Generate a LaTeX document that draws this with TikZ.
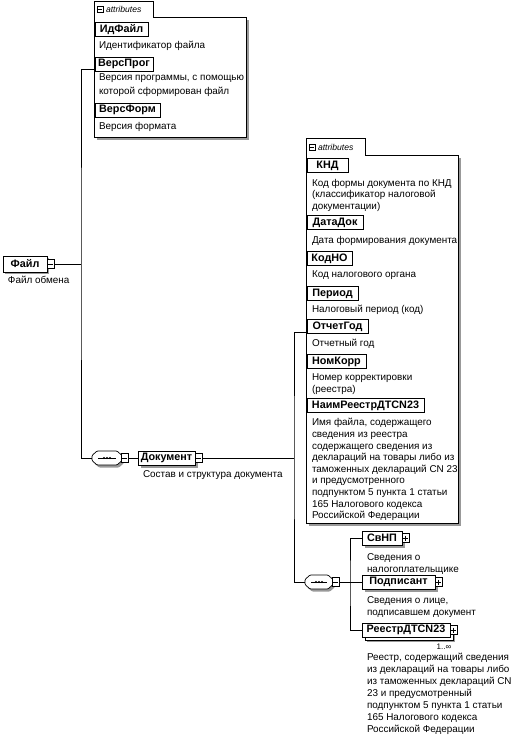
\documentclass[tikz,border=0pt]{standalone}
\usepackage{fontspec}
\setmainfont{Liberation Sans}
\usetikzlibrary{backgrounds}
\newcommand\mymin[1]{\draw[line width=0.6pt] ([xshift=1.3pt]#1.west) -- ([xshift=-1.3pt]#1.east);}
\newcommand\myplus[1]{\mymin{#1}\draw[line width=0.6pt] ([yshift=-2pt]#1.north) -- ([yshift=2pt]#1.south);}
\newcommand\shadowof[2][2.5]{\begin{pgfonlayer}{background}\fill[black!40] ([xshift=#1pt,yshift=-#1pt]#2.south west) rectangle ([xshift=#1pt,yshift=-#1pt]#2.north east);\end{pgfonlayer}}
% octagon outline round a node #2, offset (#1)
\newcommand\octpath[3]{([shift={(#1)}]#2.center) ++(-#3+5,-7) -- ++(2*#3-10,0) -- ++(5,4.5) -- ++(0,5) -- ++(-5,4.5) -- ++(-2*#3+10,0) -- ++(-5,-4.5) -- ++(0,-5) -- cycle}
\begin{document}
\begin{tikzpicture}[x=1pt,y=-1pt,
  every node/.style={inner sep=0pt, outer sep=0pt},
  lbl/.style={font=\fontsize{10.8}{12}\selectfont\bfseries, draw, fill=white, line width=0.8pt, minimum height=14pt, anchor=west},
  elem/.style={font=\fontsize{10.8}{12}\selectfont\bfseries, draw, fill=white, line width=0.7pt, minimum height=14pt, anchor=west},
  desc/.style={font=\fontsize{9.9}{12}\selectfont, anchor=north west, align=left},
  sq/.style={draw, fill=white, line width=0.6pt, minimum width=7pt, minimum height=9pt, anchor=west},
  cont/.style={fill=white, anchor=north west},
  tab/.style={anchor=south west, minimum height=16pt},
  seq/.style={minimum height=14pt},
  tabtxt/.style={font=\fontsize{8.6}{9}\selectfont\itshape, anchor=west},
  conn/.style={line width=0.7pt}
]
\useasboundingbox (0,0) rectangle (513,738);

% ---------- attributes container A ----------
\node[cont, minimum width=152pt, minimum height=120pt] (attrA) at (94,17) {};
\shadowof[3]{attrA}
\node[tab, minimum width=59pt] (tabA) at (94,17) {};
\draw[line width=0.7pt] (tabA.south east) -- (attrA.north east) -- (attrA.south east) -- (attrA.south west) -- (tabA.north west) -- (tabA.north east) -- (tabA.south east);
\node[draw, line width=0.5pt, minimum width=6.5pt, minimum height=6.5pt, anchor=west] (tabAicon) at (97,9.5) {};
\mymin{tabAicon}
\node[tabtxt] (tabAtxt) at (106,9) {attributes};

\node[lbl, minimum width=53pt] (idf) at (95,29.5) {ИдФайл};
\shadowof{idf}
\node[desc] (idfd) at (99,41.5) {Идентификатор файла};
\node[lbl, minimum width=58pt] (verp) at (95,64) {ВерсПрог};
\shadowof{verp}
\node[desc, font=\fontsize{9.9}{14}\selectfont] (verpd) at (99,73.5) {Версия программы, с помощью\\которой сформирован файл};
\node[lbl, minimum width=65pt] (verf) at (95,110) {ВерсФорм};
\shadowof{verf}
\node[desc] (verfd) at (99,122) {Версия формата};

% ---------- root ----------
\node[elem, minimum width=44pt, minimum height=16pt] (file) at (3,264) {Файл};
\shadowof[2]{file}
\node[sq] (filesq) at (file.east) {};
\mymin{filesq}
\node[desc] (filed) at (8,276.5) {Файл обмена};

\coordinate (busA) at (81,264);
\draw[conn] (filesq.east) -- (busA);
\draw[conn] ([yshift=8pt]attrA.west) -| (busA) |- (busA |- 0,458) coordinate (busAend);

% ---------- sequence 1 ----------
\node[seq, minimum width=30pt] (seq1) at (107,458) {};
\begin{pgfonlayer}{background}\fill[black!40, rounded corners=1pt] \octpath{2,2.5}{seq1}{15};\end{pgfonlayer}
\draw[fill=white, line width=0.7pt, rounded corners=1pt] \octpath{0,0}{seq1}{15};
\draw[line width=0.6pt] ([xshift=-9pt]seq1.center) -- ([xshift=9pt]seq1.center);
\foreach \d in {-3,0,3} \fill ([xshift=\d pt]seq1.center) circle (1.2pt);
\draw[conn] (busAend) -- (seq1.west);
\node[sq] (seq1sq) at ([xshift=-1pt]seq1.east) {};
\mymin{seq1sq}

\node[elem, minimum width=57pt] (doc) at (138,458) {Документ};
\shadowof{doc}
\node[sq] (docsq) at (doc.east) {};
\mymin{docsq}
\draw[conn] (seq1sq.east) -- (doc.west);
\node[desc] (docd) at (143,470.5) {Состав и структура документа};

% ---------- attributes container B ----------
\node[cont, minimum width=152pt, minimum height=368pt] (attrB) at (306,155) {};
\shadowof[3]{attrB}
\node[tab, minimum width=59pt, minimum height=17pt] (tabB) at (306,155) {};
\draw[line width=0.7pt] (tabB.south east) -- (attrB.north east) -- (attrB.south east) -- (attrB.south west) -- (tabB.north west) -- (tabB.north east) -- (tabB.south east);
\node[draw, line width=0.5pt, minimum width=6.5pt, minimum height=6.5pt, anchor=west] (tabBicon) at (309,147.5) {};
\mymin{tabBicon}
\node[tabtxt] (tabBtxt) at (318,147) {attributes};

\node[lbl, minimum width=41pt] (knd) at (307,165.5) {КНД};
\shadowof{knd}
\node[desc, font=\fontsize{9.9}{11.7}\selectfont] (kndd) at (312,179) {Код формы документа по КНД\\(классификатор налоговой\\документации)};
\node[lbl, minimum width=56pt] (data) at (307,222.5) {ДатаДок};
\shadowof{data}
\node[desc] (datad) at (312,236.5) {Дата формирования документа};
\node[lbl, minimum width=45pt] (kodno) at (307,258.5) {КодНО};
\shadowof{kodno}
\node[desc] (kodnod) at (312,270.5) {Код налогового органа};
\node[lbl, minimum width=51pt] (per) at (307,293.5) {Период};
\shadowof{per}
\node[desc] (perd) at (312,305.5) {Налоговый период (код)};
\node[lbl, minimum width=61pt] (otch) at (307,326.5) {ОтчетГод};
\shadowof{otch}
\node[desc] (otchd) at (312,339.5) {Отчетный год};
\node[lbl, minimum width=59pt] (nom) at (307,361.5) {НомКорр};
\shadowof{nom}
\node[desc] (nomd) at (312,373.5) {Номер корректировки\\(реестра)};
\node[lbl, minimum width=117pt] (naim) at (307,405.5) {НаимРеестрДТСN23};
\shadowof{naim}
\node[desc, font=\fontsize{9.9}{11.6}\selectfont] (naimd) at (312,418.5) {Имя файла, содержащего\\сведения из реестра\\содержащего сведения из\\деклараций на товары либо из\\таможенных деклараций CN 23\\и предусмотренного\\подпунктом 5 пункта 1 статьи\\165 Налогового кодекса\\Российской Федерации};

\coordinate (busB) at (294,458);
\draw[conn] (docsq.east) -- (busB);
\draw[conn] ([yshift=7pt]attrB.west) -| (busB) |- (busB |- 0,582) coordinate (busBend);

% ---------- sequence 2 ----------
\node[seq, minimum width=28pt] (seq2) at (319,582) {};
\begin{pgfonlayer}{background}\fill[black!40, rounded corners=1pt] \octpath{2,2.5}{seq2}{14};\end{pgfonlayer}
\draw[fill=white, line width=0.7pt, rounded corners=1pt] \octpath{0,0}{seq2}{14};
\draw[line width=0.6pt] ([xshift=-8pt]seq2.center) -- ([xshift=8pt]seq2.center);
\foreach \d in {-3,0,3} \fill ([xshift=\d pt]seq2.center) circle (1.2pt);
\draw[conn] (busBend) -- (seq2.west);
\node[sq] (seq2sq) at ([xshift=-1pt]seq2.east) {};
\mymin{seq2sq}

\node[elem, minimum width=40pt] (svnp) at (362,538) {СвНП};
\shadowof{svnp}
\node[sq] (svnpsq) at (svnp.east) {};
\myplus{svnpsq}
\node[desc] (svnpd) at (367,553.5) {Сведения о\\налогоплательщике};

\node[elem, minimum width=73pt] (podp) at (362,582) {Подписант};
\shadowof{podp}
\node[sq] (podpsq) at (podp.east) {};
\myplus{podpsq}
\node[desc, font=\fontsize{9.9}{12.5}\selectfont] (podpd) at (367,596.5) {Сведения о лице,\\подписавшем документ};

\node[elem, minimum width=88pt] (reestr) at (362,630) {РеестрДТСN23};
\begin{pgfonlayer}{background}
\fill[black!40] ([xshift=5pt,yshift=-5pt]reestr.south west) rectangle ([xshift=5pt,yshift=-5pt]reestr.north east);
\draw[fill=white, line width=0.7pt] ([xshift=3pt,yshift=-3pt]reestr.south west) rectangle ([xshift=3pt,yshift=-3pt]reestr.north east);
\end{pgfonlayer}
\node[sq] (reestrsq) at (reestr.east) {};
\myplus{reestrsq}
\node[font=\fontsize{8}{8}\selectfont] (mult) at (444,647) {1..∞};
\node[desc] (reestrd) at (367,653.5) {Реестр, содержащий сведения\\из деклараций на товары либо\\из таможенных деклараций CN\\23 и предусмотренный\\подпунктом 5 пункта 1 статьи\\165 Налогового кодекса\\Российской Федерации};

\coordinate (busC) at (350,582);
\draw[conn] (seq2sq.east) -- (busC);
\draw[conn] (svnp.west) -| (busC) |- (reestr.west);
\draw[conn] (busC) -- (podp.west);
\end{tikzpicture}
\end{document}
